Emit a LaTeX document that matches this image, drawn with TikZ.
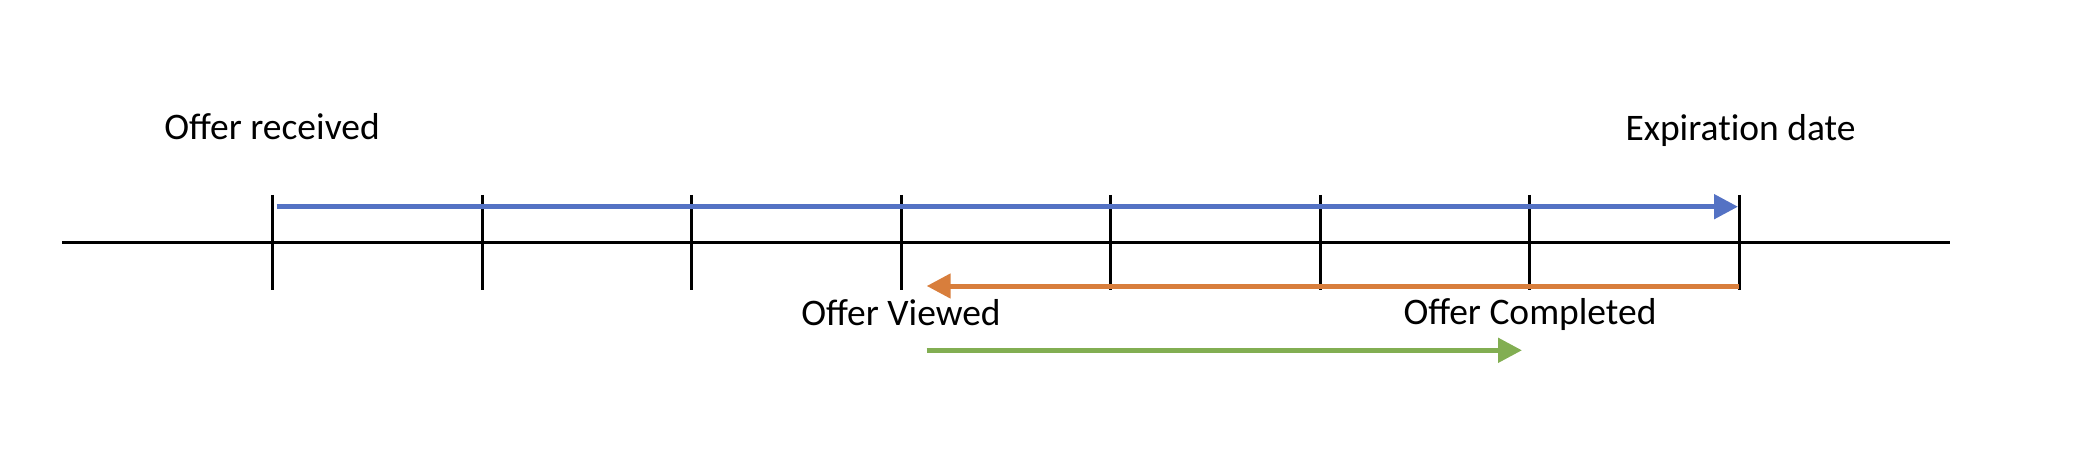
\documentclass[tikz,border=0pt]{standalone}
\usepackage{fontspec}
\setmainfont{Carlito}
\usetikzlibrary{arrows.meta}
\definecolor{oblue}{HTML}{5472C4}
\definecolor{oorange}{HTML}{D87E3C}
\definecolor{ogreen}{HTML}{82AE52}
\begin{document}
\begin{tikzpicture}[x=1pt,y=1pt,
  axisline/.style={line width=3pt,black},
  tickline/.style={line width=3pt,black},
  arr/.style={line width=5pt,-{Triangle[length=24pt,width=24pt]}},
  lbl/.style={font=\fontsize{37.5}{44}\selectfont,anchor=base,inner sep=0pt}]
\useasboundingbox (0,0) rectangle (2082,-449);
% axis
\coordinate (aL) at (62,-242);
\coordinate (aR) at (1950,-242);
\draw[axisline] (aL) -- (aR);
% ticks
\foreach \i in {0,...,7}{
  \coordinate (t\i top) at ({272.7+209.5*\i},-195);
  \coordinate (t\i bot) at ({272.7+209.5*\i},-290);
  \draw[tickline] (t\i top) -- (t\i bot);
}
% arrows
\coordinate (bS) at (276.7,-206.7);
\coordinate (bE) at (1738,-206.7);
\draw[arr,oblue] (bS) -- (bE);
\coordinate (oS) at (1739.2,-286);
\coordinate (oE) at (926.7,-286);
\draw[arr,oorange] (oS) -- (oE);
\coordinate (gS) at (926.7,-350.3);
\coordinate (gE) at (1522,-350.3);
\draw[arr,ogreen] (gS) -- (gE);
% labels
\node[lbl] (recv) at (272,-139.3) {Offer received};
\node[lbl] (exp) at (1740.5,-140.7) {Expirat\kern0pt ion date};
\node[lbl] (view) at (901,-325.7) {Offer Viewed};
\node[lbl] (comp) at (1530,-324.3) {Offer Completed};
\end{tikzpicture}
\end{document}
